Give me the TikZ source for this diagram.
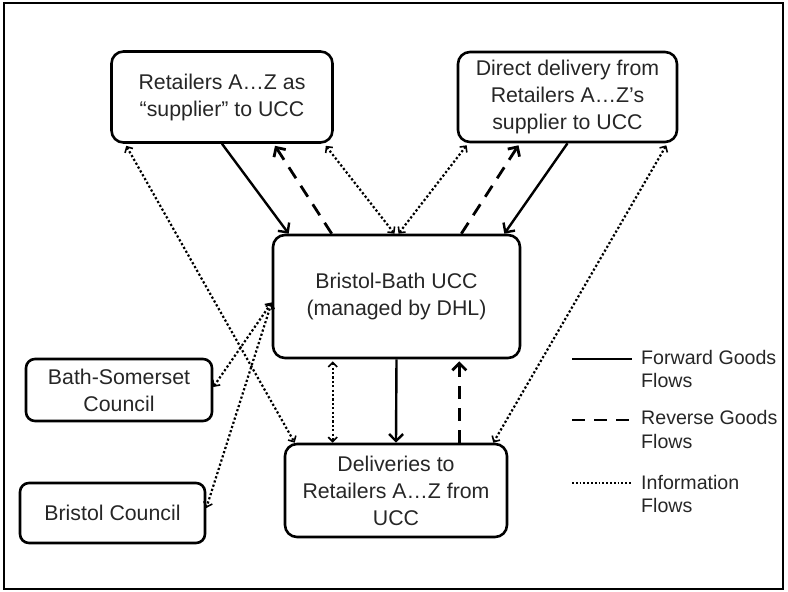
\documentclass[tikz,border=0pt]{standalone}
\usepackage{fontspec}
\setmainfont{Liberation Sans}
\usetikzlibrary{arrows.meta}
\begin{document}
\begin{tikzpicture}[x=1pt,y=-1pt,
 box/.style={draw, line width=2.6pt, rounded corners=12pt, align=center, inner sep=0pt,
   font=\fontsize{21.3}{27}\selectfont, text=black!85},
 sbox/.style={box, rounded corners=9pt},
 fwd/.style={line width=2.4pt, -{Straight Barb[length=7pt,width=14pt]}},
 rev/.style={line width=2.8pt, dash pattern=on 13pt off 9pt, -{Straight Barb[length=7pt,width=14pt]}},
 info/.style={line width=2.2pt, dash pattern=on 2.2pt off 2.2pt,
   {Straight Barb[length=4.5pt,width=9pt,line width=1.6pt]}-{Straight Barb[length=4.5pt,width=9pt,line width=1.6pt]}},
 legtext/.style={anchor=west, align=left, inner sep=0pt, font=\fontsize{19.6}{23.5}\selectfont, text=black!85}]
\useasboundingbox (0,0) rectangle (788,592);
\draw[line width=2.8pt] (4,3) rectangle (783,589);

\node[box, minimum width=221pt, minimum height=91pt] (ret) at (222,97)
  {Retailers A…Z as\\“supplier” to UCC};
\node[box, minimum width=219pt, minimum height=90pt] (dir) at (567.5,97)
  {Direct delivery from\\Retailers A…Z’s\\supplier to UCC};
\node[box, minimum width=247pt, minimum height=123pt] (ucc) at (396.5,296.5)
  {Bristol-Bath UCC\\(managed by DHL)};
\node[sbox, minimum width=186pt, minimum height=62pt] (bath) at (119,390)
  {Bath-Somerset\\Council};
\node[sbox, minimum width=185pt, minimum height=60pt] (bris) at (112.5,513)
  {Bristol Council};
\node[box, minimum width=222pt, minimum height=93pt] (del) at (396,490.5)
  {Deliveries to\\Retailers A…Z from\\UCC};

% goods flows top
\draw[fwd] (ret.south) -- ([xshift=17pt]ucc.north west);
\draw[rev] ([xshift=60pt]ucc.north west) -- ([xshift=53pt,yshift=-2pt]ret.south);
\draw[rev] ([xshift=-60pt]ucc.north east) -- ([xshift=-49pt,yshift=-2pt]dir.south);
\draw[fwd] (dir.south) -- ([xshift=-17pt]ucc.north east);
% info flows top
\draw[info] ([xshift=-8pt,yshift=-2pt]ret.south east) -- ([xshift=-2pt]ucc.north);
\draw[info] ([xshift=2pt]ucc.north) -- ([xshift=10pt,yshift=-2pt]dir.south west);
\draw[info] ([xshift=16pt,yshift=-2pt]ret.south west) -- ([xshift=11pt]del.north west);
\draw[info] ([xshift=-12pt,yshift=-2pt]dir.south east) -- ([xshift=-15pt]del.north east);
% info to councils
\draw[info] ([yshift=-6pt]ucc.west) -- ([yshift=3pt]bath.east);
\draw[info] ([yshift=-6pt]ucc.west) -- ([yshift=5pt]bris.east);
% ucc <-> deliveries
\draw[info] ([xshift=61pt,yshift=-2pt]ucc.south west) -- ([xshift=49pt]del.north west);
\draw[fwd] (ucc.south) -- (del.north);
\draw[rev] ([xshift=-49pt]del.north east) -- ([xshift=-62pt,yshift=-2pt]ucc.south east);

% legend
\coordinate (l1a) at (572,359); \coordinate (l1b) at (632,359);
\coordinate (l2a) at (572,420); \coordinate (l2b) at (632,420);
\coordinate (l3a) at (572,483); \coordinate (l3b) at (632,483);
\draw[line width=2.4pt] (l1a) -- (l1b);
\draw[line width=2.8pt, dash pattern=on 13pt off 9pt] (l2a) -- (l2b);
\draw[line width=1.8pt, dash pattern=on 1.8pt off 2pt] (l3a) -- (l3b);
\node[legtext] (lt1) at (641,369) {Forward Goods\\Flows};
\node[legtext] (lt2) at (641,429.5) {Reverse Goods\\Flows};
\node[legtext] (lt3) at (641,494) {Information\\Flows};
\end{tikzpicture}
\end{document}
